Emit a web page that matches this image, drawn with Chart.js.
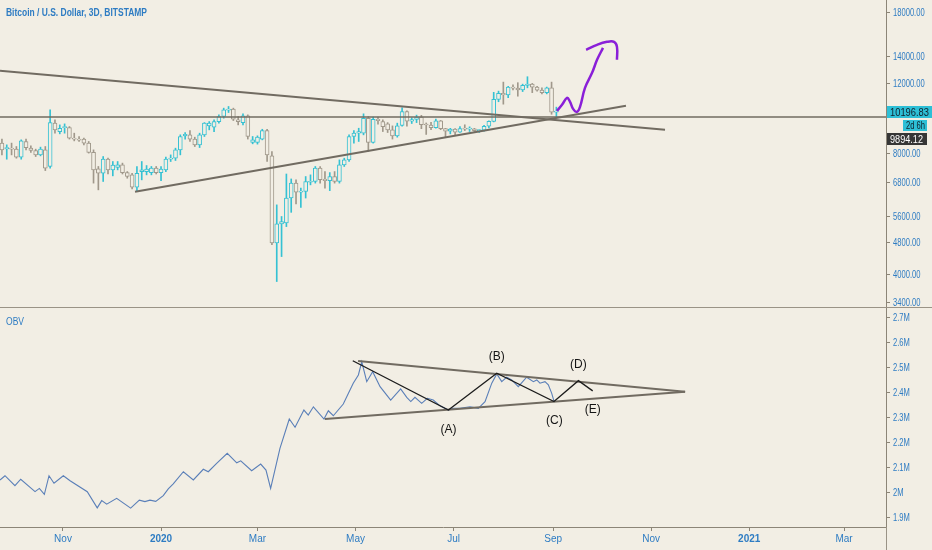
<!DOCTYPE html>
<html>
<head>
<meta charset="utf-8">
<script src="https://cdn.jsdelivr.net/npm/chart.js@4.4.0/dist/chart.umd.min.js"></script>
<style>
  html, body { margin: 0; padding: 0; background: #f2eee4; }
  #wrap { position: relative; width: 932px; height: 550px; overflow: hidden; }
  #priceBox { position: absolute; left: 0; top: 0; width: 932px; height: 307px; }
  #obvBox { position: absolute; left: 0; top: 307px; width: 932px; height: 243px; }
</style>
</head>
<body>
<div id="wrap">
  <div id="priceBox"><canvas id="priceChart"></canvas></div>
  <div id="obvBox"><canvas id="obvChart"></canvas></div>
</div>
<script>
// DATA
// 3D candles, day numbers count from 1 Nov 2019
const firstCandleDay = -38;
const candleStep = 3;
const opens = [8515, 8240, 8270, 8225, 7853, 8595, 8270, 8160, 7958, 8190,
  7445, 9550, 9100, 9310, 9310, 8765, 8715, 8715, 8515, 8070,
  7345, 7160, 7763, 7301, 7400, 7514, 7188, 7095, 6614, 7230,
  7230, 7188, 7375, 7188, 7301, 7763, 7808, 8190, 8878, 8929,
  8715, 8430, 8929, 9400, 9330, 9638, 9920, 10290, 10350, 9733,
  9580, 9958, 8545, 8545, 8715, 9150, 7913, 4800, 5353, 5380,
  6210, 6766, 6425, 6450, 6800, 6830, 7375, 6920, 6866, 7027,
  6830, 7514, 7733, 8845, 9015, 9015, 9825, 8545, 9765, 9638,
  9510, 9189, 8878, 9420, 10200, 9660, 9750, 9890, 9470, 9450,
  9300, 9680, 9250, 9120, 9230, 9070, 9250, 9230, 9240, 9150,
  9170, 9380, 9650, 10950, 11330, 11230, 11750, 11680, 11560, 11860,
  11950, 11750, 11550, 11380, 11700, 10170];
const highs = [8715, 8430, 8515, 8350, 8676, 8715, 8380, 8225, 8320, 8350,
  10309, 9733, 9455, 9510, 9365, 9015, 8845, 8765, 8595, 8190,
  7445, 7883, 7808, 7660, 7660, 7590, 7230, 7160, 7445, 7660,
  7485, 7445, 7445, 7445, 7853, 7958, 8270, 8929, 9048, 9150,
  8810, 9015, 9580, 9638, 9733, 10015, 10410, 10510, 10410, 9920,
  10075, 10015, 8845, 8878, 9220, 9220, 8115, 5971, 5585, 7130,
  6930, 6894, 6576, 7027, 7095, 7445, 7445, 7230, 7188, 7230,
  7733, 7808, 8929, 9150, 9275, 10075, 9920, 9890, 9890, 9733,
  9580, 9400, 9550, 10430, 10250, 9850, 10000, 9990, 9560, 9590,
  9780, 9700, 9270, 9270, 9260, 9370, 9460, 9350, 9270, 9200,
  9430, 9680, 11400, 11480, 12090, 11800, 11900, 12050, 11950, 12470,
  12000, 11800, 11700, 11750, 12090, 10470];
const lows = [7960, 7763, 7958, 7808, 7763, 8190, 8070, 7883, 7913, 7272,
  7375, 9015, 8980, 9015, 8715, 8625, 8595, 8430, 8040, 6766,
  6509, 6830, 7130, 7054, 7301, 7130, 6960, 6540, 6480, 6894,
  7095, 7095, 7130, 6866, 7230, 7660, 7705, 7958, 8715, 8595,
  8350, 8300, 8845, 9189, 9100, 9550, 9825, 10150, 9693, 9455,
  9455, 8715, 8480, 8465, 8676, 7660, 4750, 3843, 4436, 5270,
  5720, 6000, 5880, 6210, 6698, 6766, 6766, 6576, 6480, 6766,
  6766, 7445, 7660, 8515, 8595, 8929, 8115, 8515, 9500, 9100,
  9048, 8715, 8810, 9380, 9380, 9530, 9580, 9250, 8950, 9200,
  9280, 9200, 8830, 8980, 8920, 9050, 9150, 9100, 9100, 9050,
  9120, 9290, 9620, 10800, 10650, 11050, 11560, 11150, 11450, 11700,
  11380, 11470, 11300, 11300, 10050, 9880];
const closes = [8190, 8300, 8225, 7853, 8625, 8300, 8160, 7958, 8225, 7375,
  9580, 9189, 9275, 9365, 8765, 8715, 8660, 8515, 8070, 7301,
  7160, 7763, 7301, 7500, 7514, 7188, 7027, 6614, 7160, 7301,
  7330, 7375, 7188, 7330, 7763, 7808, 8190, 8845, 8960, 8715,
  8430, 8929, 9550, 9550, 9638, 9920, 10309, 10350, 9765, 9638,
  9958, 8845, 8676, 8810, 9150, 7958, 4800, 5353, 5428, 6210,
  6766, 6425, 6450, 6830, 6840, 7375, 6900, 6866, 7027, 6830,
  7514, 7733, 8845, 9015, 9100, 9825, 8545, 9765, 9693, 9365,
  9189, 8878, 9400, 10200, 9660, 9750, 9890, 9470, 9450, 9300,
  9680, 9250, 9120, 9230, 9070, 9250, 9230, 9240, 9150, 9170,
  9380, 9650, 10950, 11330, 11230, 11750, 11680, 11560, 11860, 11950,
  11750, 11550, 11380, 11700, 10170, 10196.83];
const candleDays = opens.map((o, i) => firstCandleDay + i * candleStep);

const lastPrice = 10196.83;
const levelPrice = 9894.12;
const priceTicks = [3400, 4000, 4800, 5600, 6800, 8000, 12000, 14000, 18000];

// lines drawn on the price pane
const fallingDays = [-39.2, 374.6];
const fallingPrices = [12900, 9190];
const risingDays = [44.8, 350.3];
const risingPrices = [6435, 10548];
const levelDays = [-39.2, 512.1];
const arrowDays = [307.4, 310.5, 313.6, 315.5, 317.4, 319.8, 321.7, 324.8, 329.2, 332.3, 336.0];
const arrowPrices = [10249, 10609, 11045, 10793, 10368, 10191, 10487, 11697, 12750, 13740, 14720];
const hookDays = [325.5, 332.3, 338.5, 342.9, 344.7, 344.7];
const hookPrices = [14553, 14976, 15237, 15237, 14805, 13740];

// OBV pane (millions)
const obvDays = [-39.2, -36.1, -29.9, -26.3, -17.4, -14.7, -11.6, -8.7, -5.6, 0.2,
  4.4, 15.1, 21.3, 24.1, 27.2, 33.4, 42.1, 47.5, 51.0, 54.1,
  57.7, 62.4, 65.5, 68.6, 74.9, 81.1, 87.3, 90.4, 95.6, 102.2,
  108.1, 110.6, 117.4, 123.0, 126.3, 129.2, 135.0, 140.8, 144.4, 149.9,
  152.6, 155.8, 162.4, 165.1, 168.2, 174.4, 180.6, 183.8, 185.9, 189.0,
  192.7, 197.3, 203.9, 210.1, 213.9, 216.4, 219.0, 223.2, 226.7, 230.4,
  234.6, 239.8, 242.9, 247.0, 253.3, 258.4, 262.6, 266.8, 269.9, 273.0,
  276.1, 279.2, 283.3, 288.5, 292.7, 294.8, 296.8, 299.9, 302.0, 304.1, 305.5];
const obvValues = [2.049, 2.066, 2.026, 2.052, 2.002, 2.015, 1.991, 2.066, 2.036, 2.066,
  2.046, 2.002, 1.937, 1.966, 1.952, 1.975, 1.936, 1.968, 1.962, 1.968,
  1.963, 1.986, 2.013, 2.033, 2.082, 2.049, 2.092, 2.082, 2.116, 2.156,
  2.118, 2.126, 2.086, 2.113, 2.089, 2.015, 2.176, 2.294, 2.261, 2.330,
  2.310, 2.343, 2.294, 2.327, 2.307, 2.354, 2.438, 2.471, 2.524, 2.444,
  2.484, 2.424, 2.370, 2.415, 2.381, 2.364, 2.381, 2.357, 2.377, 2.370,
  2.347, 2.330, 2.337, 2.337, 2.343, 2.337, 2.364, 2.438, 2.475, 2.444,
  2.462, 2.451, 2.424, 2.462, 2.444, 2.451, 2.438, 2.444, 2.431, 2.397, 2.366];
const obvTicks = [1.9, 2.0, 2.1, 2.2, 2.3, 2.4, 2.5, 2.6, 2.7];

const upperDays = [183.6, 387.1];
const upperValues = [2.527, 2.403];
const lowerDays = [163.0, 387.1];
const lowerValues = [2.294, 2.403];
const waveDays = [180.3, 239.8, 269.9, 305.5, 320.7, 329.6];
const waveValues = [2.528, 2.330, 2.478, 2.364, 2.448, 2.407];
const waveLabels = ["(A)", "(B)", "(C)", "(D)", "(E)"];
const waveLabelDays = [239.8, 269.9, 305.7, 320.7, 329.6];
const waveLabelValues = [2.253, 2.544, 2.287, 2.511, 2.333];

const timeTickDays = [0, 61, 121, 182, 243, 305, 366, 427, 486];
const timeTickLabels = ["Nov", "2020", "Mar", "May", "Jul", "Sep", "Nov", "2021", "Mar"];

// STYLE
const FONT = '"Liberation Sans", Arial, sans-serif';
const BG = "#f2eee4";
const BLUE = "#2e7cc3";
const AXIS = "#8c8577";
const UP = "#35c1d3";
const DOWN = "#a0988b";
const TREND = "#716b61";
const xMin = -39.2;
const xMax = 512.1;

Chart.defaults.font.family = FONT;
Chart.defaults.animation = false;

const candleColors = opens.map((o, i) => (closes[i] >= o ? UP : DOWN));

function pts(days, values) {
  return days.map((d, i) => ({ x: d, y: values[i] }));
}

// draw text squeezed horizontally (the original uses a narrow face)
function squeezeText(ctx, text, x, y, factor) {
  ctx.save();
  ctx.translate(x, y);
  ctx.scale(factor, 1);
  ctx.fillText(text, 0, 0);
  ctx.restore();
}

function fitText(ctx, text, x, y, width) {
  const w = ctx.measureText(text).width;
  squeezeText(ctx, text, x, y, Math.min(1, width / w));
}

function drawRightLabels(chart, fmt) {
  const ctx = chart.ctx;
  const ys = chart.scales.y;
  ctx.save();
  ctx.fillStyle = BLUE;
  ctx.font = "11px " + FONT;
  ctx.textBaseline = "middle";
  ys.ticks.forEach((t) => {
    squeezeText(ctx, fmt(t.value), 893, ys.getPixelForValue(t.value) + 0.5, 0.69);
  });
  ctx.restore();
}

function lineSet(data, color, width, extra) {
  return Object.assign({
    type: "line",
    data: data,
    borderColor: color,
    borderWidth: width,
    pointRadius: 0,
    fill: false,
    order: 1,
  }, extra || {});
}

// PRICE PANE
const priceOverlay = {
  id: "priceOverlay",
  afterDraw(chart) {
    const ctx = chart.ctx;
    const y = chart.scales.y;
    drawRightLabels(chart, (v) => v.toFixed(2));
    ctx.save();
    ctx.fillStyle = BLUE;
    ctx.font = "bold 11px " + FONT;
    ctx.textBaseline = "middle";
    fitText(ctx, "Bitcoin / U.S. Dollar, 3D, BITSTAMP", 6, 13, 141);

    const py = Math.round(y.getPixelForValue(lastPrice));
    ctx.fillStyle = "#2dbfd6";
    ctx.fillRect(887, py - 6, 45, 12);
    ctx.fillRect(903, py + 8, 24, 11);
    ctx.fillStyle = "#11202c";
    ctx.font = "11px " + FONT;
    fitText(ctx, lastPrice.toFixed(2), 890, py + 0.5, 39);
    fitText(ctx, "2d 6h", 906, py + 14, 19);

    ctx.fillStyle = "#363636";
    ctx.fillRect(887, 133, 40, 12);
    ctx.fillStyle = "#ffffff";
    fitText(ctx, levelPrice.toFixed(2), 890, 139.5, 33);
    ctx.restore();
  },
};

new Chart(document.getElementById("priceChart"), {
  type: "bar",
  data: {
    datasets: [
      lineSet(pts(fallingDays, fallingPrices), TREND, 2),
      lineSet(pts(risingDays, risingPrices), TREND, 2),
      lineSet(pts(levelDays, [levelPrice, levelPrice]), TREND, 1.5),
      lineSet(pts(arrowDays, arrowPrices), "#8a1fd8", 2.5, { tension: 0.4 }),
      lineSet(pts(hookDays, hookPrices), "#8a1fd8", 2.5, { tension: 0.4 }),
      {
        type: "bar",
        data: candleDays.map((d, i) => ({ x: d, y: [opens[i], closes[i]] })),
        backgroundColor: BG,
        borderColor: candleColors,
        borderWidth: 1,
        borderSkipped: false,
        barThickness: 4,
        minBarLength: 1,
        grouped: false,
        order: 2,
      },
      {
        type: "bar",
        data: candleDays.map((d, i) => ({ x: d, y: [lows[i], highs[i]] })),
        backgroundColor: candleColors,
        barThickness: 1,
        grouped: false,
        order: 3,
      },
    ],
  },
  options: {
    responsive: true,
    maintainAspectRatio: false,
    layout: { padding: 0 },
    plugins: { legend: { display: false }, tooltip: { enabled: false } },
    scales: {
      x: { type: "linear", display: false, min: xMin, max: xMax, offset: false },
      y: {
        type: "logarithmic",
        position: "right",
        min: 3320,
        max: 19380,
        bounds: "data",
        beginAtZero: false,
        afterBuildTicks: (scale) => {
          scale.ticks = priceTicks.map((v) => ({ value: v }));
        },
        afterFit: (scale) => {
          scale.width = 46;
        },
        ticks: { display: false },
        grid: { drawOnChartArea: false, drawTicks: true, tickLength: 4, color: AXIS },
        border: { display: true, color: AXIS },
      },
    },
  },
  plugins: [priceOverlay],
});

// OBV PANE
const obvOverlay = {
  id: "obvOverlay",
  afterDraw(chart) {
    const ctx = chart.ctx;
    const xs = chart.scales.x;
    const ys = chart.scales.y;
    drawRightLabels(chart, (v) => Math.round(v * 10) / 10 + "M");
    ctx.save();
    ctx.strokeStyle = "#9a9386";
    ctx.lineWidth = 1;
    ctx.beginPath();
    ctx.moveTo(0, 0.5);
    ctx.lineTo(932, 0.5);
    ctx.moveTo(886.5, chart.chartArea.bottom);
    ctx.lineTo(886.5, 243);
    ctx.stroke();

    ctx.fillStyle = BLUE;
    ctx.font = "10.5px " + FONT;
    ctx.textBaseline = "middle";
    fitText(ctx, "OBV", 6, 15, 18);

    ctx.fillStyle = "#151515";
    ctx.font = "12px " + FONT;
    ctx.textAlign = "center";
    waveLabels.forEach((t, i) => {
      ctx.fillText(t, xs.getPixelForValue(waveLabelDays[i]), ys.getPixelForValue(waveLabelValues[i]));
    });
    ctx.restore();
  },
};

new Chart(document.getElementById("obvChart"), {
  type: "line",
  data: {
    datasets: [
      lineSet(pts(upperDays, upperValues), TREND, 2, { order: 2 }),
      lineSet(pts(lowerDays, lowerValues), TREND, 2, { order: 2 }),
      lineSet(pts(waveDays, waveValues), "#1c1c1c", 1.3),
      lineSet(pts(obvDays, obvValues), "#5a7fb8", 1.1, { order: 3 }),
    ],
  },
  options: {
    responsive: true,
    maintainAspectRatio: false,
    layout: { padding: { top: 1, left: 0, right: 0, bottom: 0 } },
    plugins: { legend: { display: false }, tooltip: { enabled: false } },
    scales: {
      x: {
        type: "linear",
        min: xMin,
        max: xMax,
        offset: false,
        afterBuildTicks: (scale) => {
          scale.ticks = timeTickDays.map((v) => ({ value: v }));
        },
        afterFit: (scale) => {
          scale.height = 23;
        },
        ticks: {
          color: BLUE,
          autoSkip: false,
          maxRotation: 0,
          padding: 2,
          font: (c) => ({
            size: 10,
            weight: c.tick && (c.tick.value === 61 || c.tick.value === 427) ? "bold" : "normal",
          }),
          callback: (v) => timeTickLabels[timeTickDays.indexOf(v)],
        },
        grid: { drawOnChartArea: false, drawTicks: true, tickLength: 4, color: AXIS },
        border: { display: true, color: AXIS },
      },
      y: {
        type: "linear",
        position: "right",
        min: 1.86,
        max: 2.74,
        bounds: "data",
        afterBuildTicks: (scale) => {
          scale.ticks = obvTicks.map((v) => ({ value: v }));
        },
        afterFit: (scale) => {
          scale.width = 46;
        },
        ticks: { display: false },
        grid: { drawOnChartArea: false, drawTicks: true, tickLength: 4, color: AXIS },
        border: { display: true, color: AXIS },
      },
    },
  },
  plugins: [obvOverlay],
});
</script>
</body>
</html>
